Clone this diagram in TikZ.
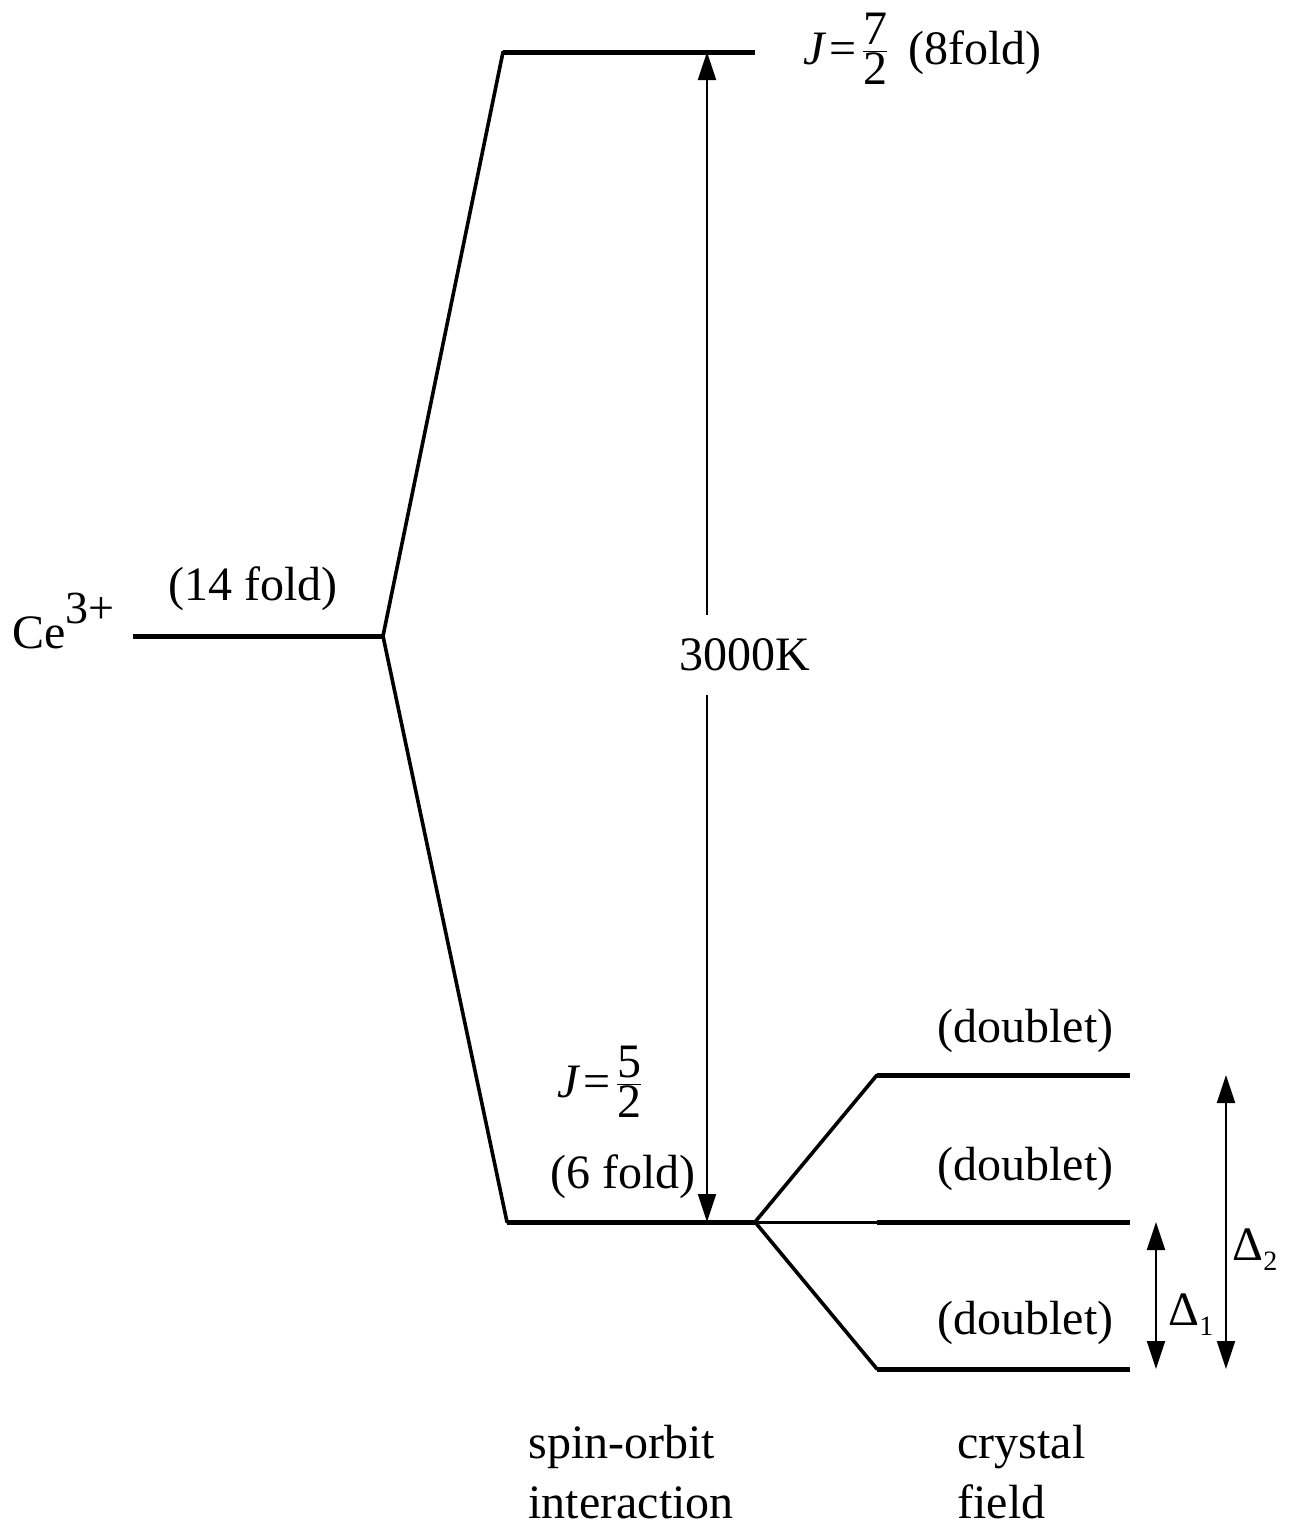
\documentclass[tikz,border=0pt]{standalone}
\usepackage{fontspec}
\setmainfont{Liberation Serif}
\usetikzlibrary{arrows.meta}
\newcommand{\jfrac}[1]{{\itshape J}\kern2.5pt=\kern2pt$\frac{\mbox{\rmfamily #1}}{\mbox{\rmfamily 2}}$}
\begin{document}
\begin{tikzpicture}[x=0.5pt,y=-0.5pt,
 level/.style={line width=2.5pt},
 midlevel/.style={line width=1.5pt},
 branch/.style={line width=1.8pt, line cap=round},
 gaparrow/.style={{Triangle[length=14pt,width=9pt]}-{Triangle[length=14pt,width=9pt]}, line width=1pt},
 lbl/.style={inner sep=0pt, anchor=base west, font=\fontsize{24}{28}\selectfont},
]
\useasboundingbox (0,0) rectangle (1292,1533);
% level coordinates
\coordinate (ce) at (133,636);
\coordinate (split) at (383,636);
\coordinate (j7l) at (503,52);
\coordinate (j7r) at (755,52);
\coordinate (j5l) at (507,1222);
\coordinate (j5r) at (755,1222);
\coordinate (c3l) at (877,1075);
\coordinate (c3r) at (1130,1075);
\coordinate (c2l) at (877,1222);
\coordinate (c2r) at (1130,1222);
\coordinate (c1l) at (877,1369);
\coordinate (c1r) at (1130,1369);
% arrow end points
\coordinate (sotop) at (707,52);
\coordinate (sobot) at (707,1222);
\coordinate (d1top) at (1156,1222);
\coordinate (d1bot) at (1156,1369);
\coordinate (d2top) at (1226,1075);
\coordinate (d2bot) at (1226,1369);

% levels
\draw[level] (ce) -- (split);
\draw[branch] (split) -- (j7l);
\draw[branch] (split) -- (j5l);
\draw[level] (j7l) -- (j7r);
\draw[level] (j5l) -- (j5r);
\draw[branch] (j5r) -- (c3l);
\draw[branch] (j5r) -- (c1l);
\draw[midlevel] (j5r) -- (c2l);
\draw[level] (c3l) -- (c3r);
\draw[level] (c2l) -- (c2r);
\draw[level] (c1l) -- (c1r);

% arrows
\draw[gaparrow] (sotop) -- (sobot);
\draw[gaparrow] (d1top) -- (d1bot);
\draw[gaparrow] (d2top) -- (d2bot);

% labels
\node[lbl] (celbl) at (12,648) {Ce\raisebox{12.5pt}{\fontsize{23}{24}\selectfont 3+}};
\node[lbl] (fold14) at (168,600) {(14 fold)};
\node[inner sep=0pt, fill=white, minimum height=40pt, font=\fontsize{24}{28}\selectfont] (sok) at (745,655) {3000K};
\node[lbl] (j7) at (803,64) {\jfrac{7}};
\node[lbl] (fold8) at (908,64) {(8fold)};
\node[lbl] (j5) at (557,1097) {\jfrac{5}};
\node[lbl] (fold6) at (550,1188) {(6 fold)};
\node[lbl] (db3) at (937,1042) {(doublet)};
\node[lbl] (db2) at (937,1180) {(doublet)};
\node[lbl] (db1) at (937,1334) {(doublet)};
\node[lbl] (d1) at (1168,1325) {Δ\raisebox{-5pt}{\fontsize{14}{14}\selectfont 1}};
\node[lbl] (d2) at (1232,1260) {Δ\raisebox{-5pt}{\fontsize{14}{14}\selectfont 2}};
\node[lbl] (so1) at (528,1458) {spin-orbit};
\node[lbl] (so2) at (528,1518) {interaction};
\node[lbl] (cf1) at (957,1458) {crystal};
\node[lbl] (cf2) at (957,1518) {field};
\end{tikzpicture}
\end{document}
